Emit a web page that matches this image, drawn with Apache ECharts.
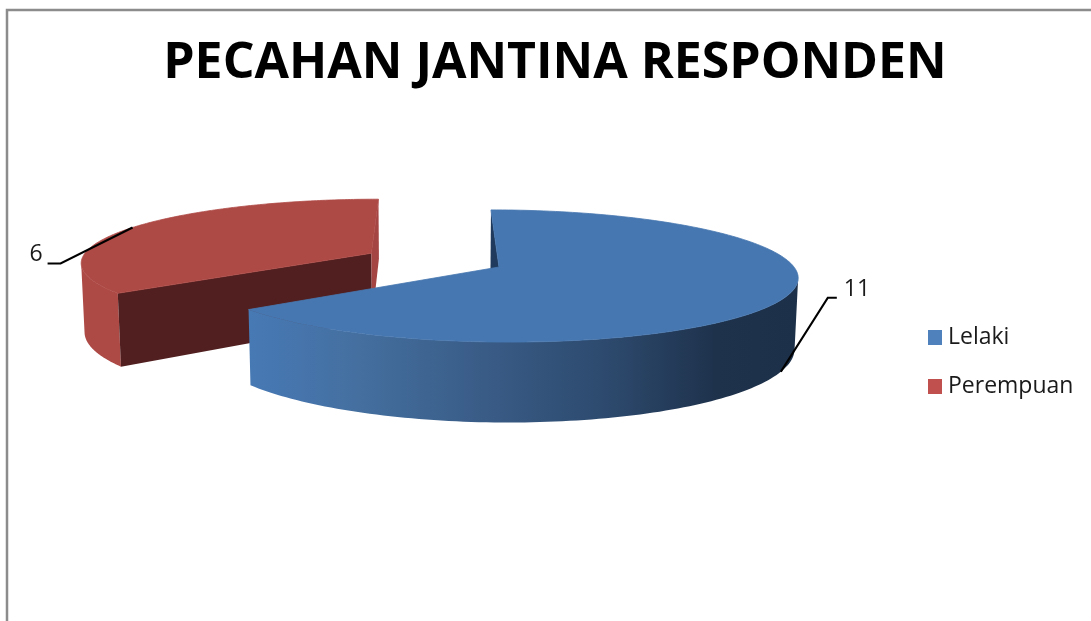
<!DOCTYPE html>
<html>
<head>
<meta charset="utf-8">
<title>PECAHAN JANTINA RESPONDEN</title>
<script src="https://cdn.jsdelivr.net/npm/echarts@6/dist/echarts.min.js"></script>
<style>
  html, body { margin: 0; padding: 0; background: #fff; }
  #chart { width: 1091px; height: 621px; }
</style>
</head>
<body>
<div id="chart"></div>
<script>
// Respondent counts by gender
const categories = ['Lelaki', 'Perempuan'];
const values = [11, 6];
const legendColors = ['#4f81bd', '#c0504d'];
const chartTitle = 'PECAHAN JANTINA RESPONDEN';
const explode = [0, 0.49];

const FONT = '"Open Sans", "Noto Sans", sans-serif';

// Perspective of the pie's top plane: horizon point, focal depth and radius, in pixels
const cam = { vx: 432, vy: -210, cx: 67, d: 477, k: 0.136, r: 295, thick: 69.5, vertVy: 7500 };

// One look per slice: faces of the extruded wedge, painted back to front
const looks = [
  {
    top: '#4777b0',
    wall: { type: 'linear', x: 0, y: 0, x2: 1, y2: 0, colorStops: [
      { offset: 0, color: '#4779b4' },
      { offset: 0.1, color: '#4674ab' },
      { offset: 0.2, color: '#446f9f' },
      { offset: 0.45, color: '#385a84' },
      { offset: 0.65, color: '#2d4a6e' },
      { offset: 0.85, color: '#1e324c' },
      { offset: 1, color: '#1d3049' }
    ] },
    sideStart: '#1f3a5c',
    sideEnd: null,
    wallFirst: false,
    label: { dx: [47, 56], dy: [-74, -74], baseDrop: true, tx: 63, ty: -82, align: 'left' }
  },
  {
    top: '#ae4a46',
    wall: '#ae4a46',
    sideStart: '#511f1f',
    sideEnd: '#a54543',
    wallFirst: true,
    label: { dx: [-72, -85], dy: [36, 36], baseDrop: false, tx: -90, ty: 27, align: 'right' }
  }
];

const total = values.reduce((a, b) => a + b, 0);
const toRad = (i) => i * Math.PI / 180;

// theta runs clockwise from the back of the pie; u/v are plane units of one radius
function planePoint(u, v) {
  const w = 1 + cam.k * v;
  return [cam.vx + (cam.cx + cam.r * u) / w, cam.vy + cam.d / w, w];
}
// The same plane point on the underside, shifted along the converging verticals
function dropPoint(p) {
  const h = cam.thick / p[2];
  return [p[0] + (cam.vx - p[0]) * h / (cam.vertVy - p[1]), p[1] + h];
}

function sliceAngles(index) {
  let before = 0;
  for (let i = 0; i < index; i++) before += values[i];
  return [before / total * 360, (before + values[index]) / total * 360];
}

function renderSlice(index) {
  const [a0, a1] = sliceAngles(index);
  const mid = toRad((a0 + a1) / 2);
  const offU = explode[index] * Math.sin(mid);
  const offV = explode[index] * Math.cos(mid);
  const rimAt = (deg) => planePoint(offU + Math.sin(toRad(deg)), offV + Math.cos(toRad(deg)));
  const apex = planePoint(offU, offV);

  const rim = [];
  const STEPS = 180;
  for (let s = 0; s <= STEPS; s++) rim.push(rimAt(a0 + (a1 - a0) * s / STEPS));
  const xy = (p) => [p[0], p[1]];

  // Outer wall: only the run of rim facing the viewer, where the rim moves leftward on screen
  const facing = rim.filter((p, s) => {
    const next = rim[Math.min(s + 1, STEPS)];
    const prev = rim[Math.max(s - 1, 0)];
    return next[0] - prev[0] < 0;
  });
  const wallPoints = facing.map(xy).concat(facing.map(dropPoint).reverse());

  const look = looks[index];
  const startRim = rim[0];
  const endRim = rim[STEPS];
  const poly = (points, fill, seam) => ({
    type: 'polygon', silent: true,
    shape: { points: points },
    style: { fill: fill, stroke: seam ? fill : null, lineWidth: seam ? 0.8 : 0 }
  });

  const sides = [];
  if (look.sideStart) sides.push(poly([xy(apex), xy(startRim), dropPoint(startRim), dropPoint(apex)], look.sideStart));
  if (look.sideEnd) sides.push(poly([xy(apex), xy(endRim), dropPoint(endRim), dropPoint(apex)], look.sideEnd));
  const wall = poly(wallPoints, look.wall);
  const children = look.wallFirst ? [wall].concat(sides) : sides.concat([wall]);
  // A hairline of the face colour keeps darker faces from showing through the shared rim
  children.push(poly([xy(apex)].concat(rim.map(xy)), look.top, true));

  // Leader line and value label, anchored at the slice's mid angle on the rim
  const anchorTop = rimAt((a0 + a1) / 2);
  const lb = look.label;
  const anchor = lb.baseDrop ? dropPoint(anchorTop) : xy(anchorTop);
  children.push({
    type: 'polyline', silent: true,
    shape: { points: [
      anchor,
      [anchor[0] + lb.dx[0], anchor[1] + lb.dy[0]],
      [anchor[0] + lb.dx[1], anchor[1] + lb.dy[1]]
    ] },
    style: { stroke: '#000', lineWidth: 2.2, fill: null }
  });
  children.push({
    type: 'text', silent: true,
    x: anchor[0] + lb.tx, y: anchor[1] + lb.ty,
    style: {
      text: String(values[index]),
      font: '23px ' + FONT,
      fill: '#1a1a1a',
      align: lb.align,
      verticalAlign: 'middle'
    }
  });
  return { type: 'group', children: children };
}

const chart = echarts.init(document.getElementById('chart'), null, { renderer: 'canvas' });
chart.setOption({
  animation: false,
  backgroundColor: '#ffffff',
  color: legendColors,
  title: {
    text: chartTitle,
    left: 550, top: 34, textAlign: 'center',
    textStyle: { fontFamily: FONT, fontWeight: 'bold', fontSize: 50, color: '#000' }
  },
  legend: {
    orient: 'vertical',
    left: 923, top: 321,
    itemWidth: 14, itemHeight: 15, itemGap: 26,
    icon: 'rect',
    selectedMode: false,
    data: categories,
    textStyle: { fontFamily: FONT, fontSize: 23, color: '#1a1a1a', padding: [0, 0, 0, 1] }
  },
  graphic: [{
    type: 'rect', silent: true, z: -10,
    shape: { x: 7, y: 10, width: 1400, height: 900 },
    style: { fill: null, stroke: '#8c8c8c', lineWidth: 2.5 }
  }],
  // Two custom series so the front slice always paints over the exploded one
  series: categories.map((name, i) => ({
    type: 'custom',
    name: name,
    coordinateSystem: 'none',
    z: 10 - i,
    silent: true,
    data: [values[i]],
    renderItem: () => renderSlice(i)
  }))
});
</script>
</body>
</html>
